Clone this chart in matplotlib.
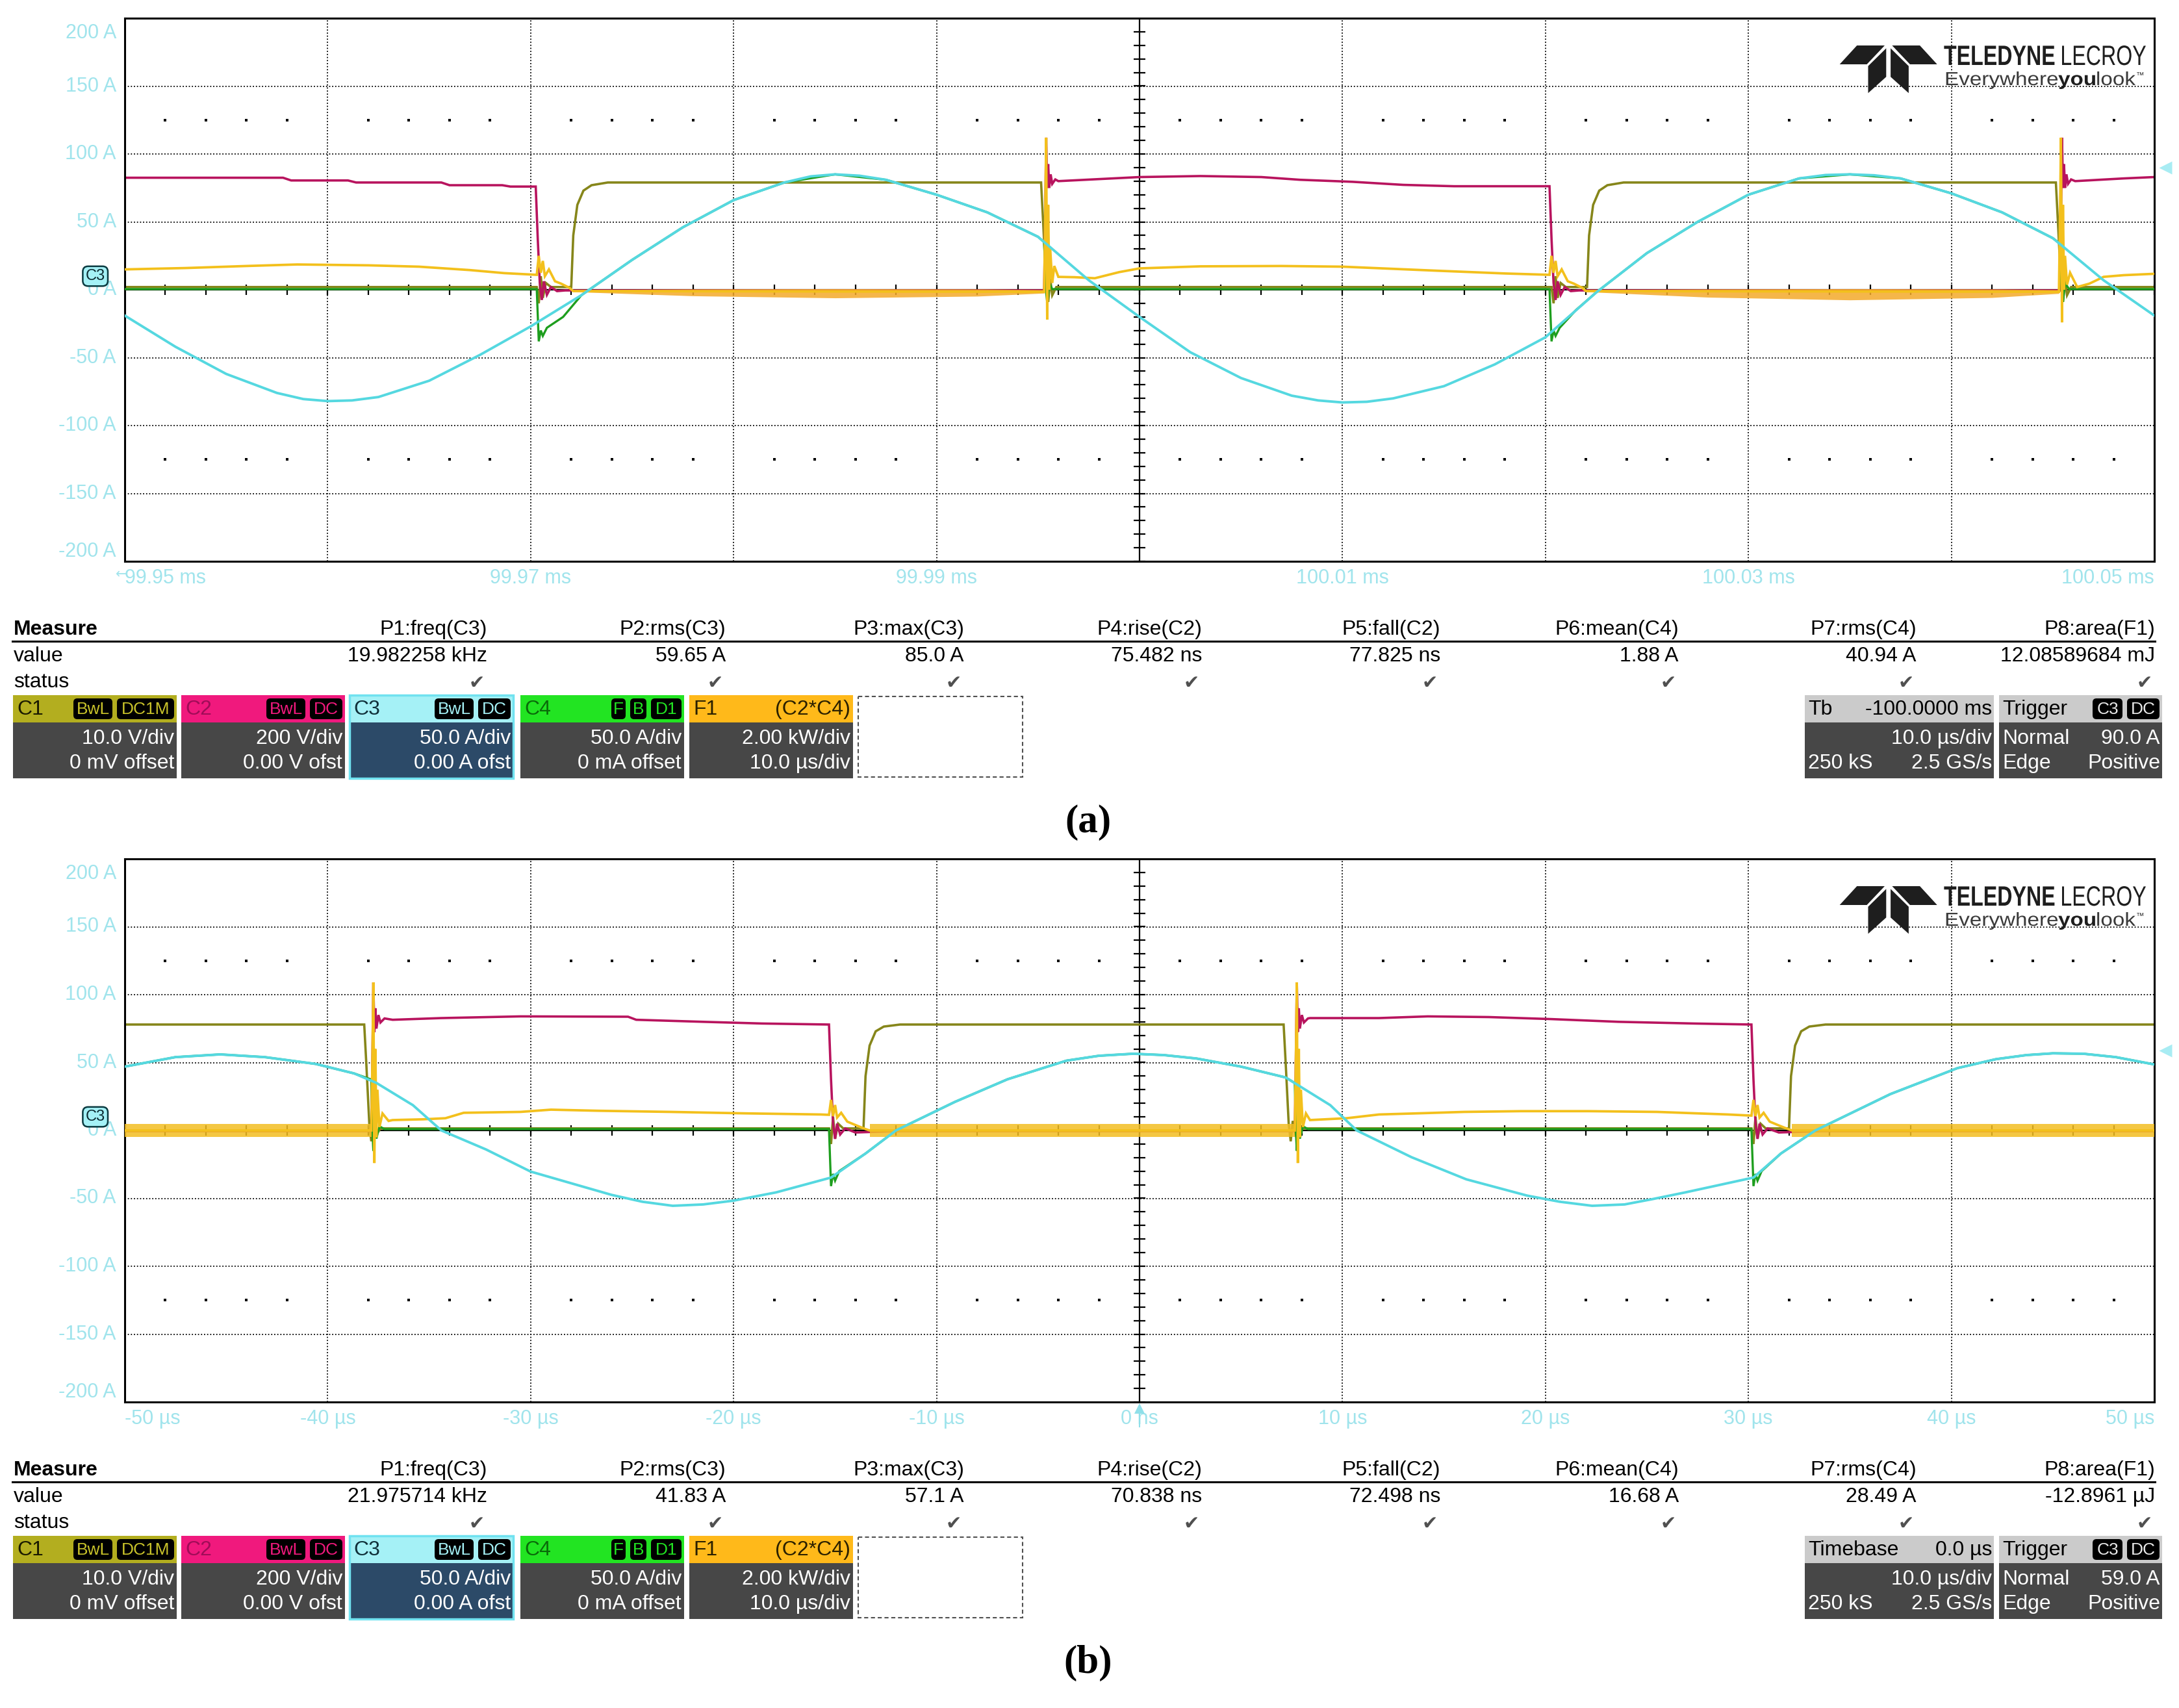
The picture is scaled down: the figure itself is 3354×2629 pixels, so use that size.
import numpy as np
import matplotlib
matplotlib.use('Agg')
import matplotlib.pyplot as plt
import matplotlib.transforms as mtrans
from matplotlib.patches import Rectangle, FancyBboxPatch, Polygon, PathPatch
from matplotlib.textpath import TextPath
from matplotlib.font_manager import FontProperties

nan = np.nan

# scope vertical settings (units per division)
c1_scale = 10.0     # V/div
c2_scale = 200.0    # V/div
c3_scale = 50.0     # A/div
c4_scale = 50.0     # A/div
f1_scale = 2000.0   # W/div

y_ticks = [200, 150, 100, 50, 0, -50, -100, -150, -200]
y_labels = ['200 A', '150 A', '100 A', '50 A', '0 A', '-50 A', '-100 A', '-150 A', '-200 A']

a_x_ticks = [-50, -30, -10, 10, 30, 50]
a_x_labels = ['99.95 ms', '99.97 ms', '99.99 ms', '100.01 ms', '100.03 ms', '100.05 ms']
b_x_ticks = [-50, -40, -30, -20, -10, 0, 10, 20, 30, 40, 50]
b_x_labels = ['-50 µs', '-40 µs', '-30 µs', '-20 µs', '-10 µs', '0 ns',
              '10 µs', '20 µs', '30 µs', '40 µs', '50 µs']

# ---------------- (a) traces, time in us around 100 ms ----------------
a_c1 = [(-50, 0.4), (-29.7, 0.4), (-29.6, -2.0), (-29.5, 2.0), (-29.4, -1.2), (-29.25, 1.0),
        (-29.0, 0.4), (-28.0, 0.4), (-27.9, 8.0), (-27.7, 12.5), (-27.4, 14.6), (-27.0, 15.4),
        (-26.2, 15.8), (-4.85, 15.8), (-4.75, 10.0), (-4.6, 1.0), (-4.5, -1.8), (-4.4, 1.6),
        (-4.3, -0.8), (-4.1, 0.4), (20.3, 0.4), (20.4, -2.0), (20.5, 2.0), (20.6, -1.2),
        (20.75, 1.0), (21.0, 0.4), (22.05, 0.4), (22.15, 8.0), (22.35, 12.5), (22.65, 14.6),
        (23.05, 15.4), (23.85, 15.8), (45.15, 15.8), (45.25, 10.0), (45.4, 1.0), (45.5, -1.8),
        (45.6, 1.6), (45.7, -0.8), (45.9, 0.4), (50, 0.4)]

a_c2 = [(-50, 330), (-42.2, 330), (-41.8, 322), (-39.0, 322), (-38.6, 316), (-34.4, 316),
        (-34.0, 308), (-31.4, 308), (-31.0, 304), (-29.75, 304), (-29.65, 150), (-29.55, 20),
        (-29.45, -30), (-29.35, 25), (-29.2, -15), (-29.0, 8), (-28.7, -4), (-28.3, -2),
        (-4.7, -2), (-4.65, 200), (-4.6, 448), (-4.55, 300), (-4.5, 370), (-4.45, 300),
        (-4.38, 340), (-4.3, 312), (-4.15, 325), (-4.0, 320), (-2.0, 326), (0.0, 332),
        (3.0, 335), (6.0, 332), (7.9, 324), (10.5, 318), (13.0, 309), (15.5, 305),
        (20.2, 305), (20.3, 150), (20.4, 20), (20.5, -30), (20.6, 25), (20.75, -15),
        (20.95, 8), (21.25, -4), (21.65, -2), (45.35, -2), (45.4, 200), (45.45, 448),
        (45.5, 300), (45.55, 370), (45.6, 300), (45.67, 340), (45.75, 312), (45.9, 325),
        (46.1, 320), (48.5, 328), (50, 332)]

a_c3 = [(-50, -19), (-47.5, -42), (-45, -62), (-42.5, -76), (-41.2, -80.5), (-40, -82),
        (-38.8, -81.5), (-37.5, -79), (-35, -67), (-32.5, -48), (-30, -27), (-27.5, -4),
        (-25, 22), (-22.5, 46), (-20, 66), (-17.5, 79), (-16.2, 83.5), (-15, 85),
        (-13.8, 84), (-12.5, 81), (-10, 70), (-7.5, 57), (-5, 39), (-2.5, 7), (0, -20),
        (2.5, -46), (5, -65), (7.5, -78), (8.8, -81.5), (10, -83), (11.2, -82.5),
        (12.5, -80), (15, -71), (17.5, -55), (20, -35), (22.5, -2), (25, 27), (27.5, 50),
        (30, 70), (32.5, 82), (33.8, 84.5), (35, 85), (36.2, 84.3), (37.5, 82), (40, 71),
        (42.5, 57), (45, 38), (47.5, 7), (50, -19)]

a_c4 = [(-50, 0.5), (-29.7, 0.5), (-29.6, -38), (-29.5, -30), (-29.4, -34), (-29.2, -28),
        (-28.4, -20), (-27.5, -4), (-25, 22), (-22.5, 46), (-20, 66), (-17.5, 79), (-15, 85),
        (-12.5, 81), (-10, 70), (-7.5, 57), (-5.0, 39), (-4.7, 35), (-4.62, 0), (-4.55, -9),
        (-4.45, 5), (-4.3, 0.5), (20.2, 0.5), (20.3, -38), (20.4, -30), (20.5, -34),
        (20.7, -28), (21.5, -15), (22.5, -2), (25, 27), (27.5, 50), (30, 70), (32.5, 82),
        (35, 85), (37.5, 82), (40, 71), (42.5, 57), (45.0, 38), (45.35, 34), (45.43, 0),
        (45.5, -9), (45.6, 5), (45.8, 0.5), (50, 0.5)]

a_f1 = [(-50, 600), (-47, 640), (-44, 700), (-41.5, 745), (-38, 720), (-35.5, 680),
        (-33, 580), (-31.3, 490), (-29.7, 440), (-29.6, 1000), (-29.5, 500), (-29.4, 850),
        (-29.3, 400), (-29.1, 600), (-28.8, 250), (-28.5, 180), (-28.1, 60), (-27.9, -40),
        (-4.7, -60), (-4.65, 2000), (-4.6, 4480), (-4.55, -880), (-4.5, 2500), (-4.45, 0),
        (-4.4, 1200), (-4.3, 200), (-4.2, 700), (-4.0, 380), (-3.2, 370), (-2.2, 340),
        (-1.0, 520), (0, 630), (3, 690), (7, 700), (10, 680), (14.7, 560), (18, 480),
        (20.2, 440), (20.3, 1000), (20.4, 500), (20.5, 850), (20.6, 400), (20.8, 600),
        (21.1, 250), (21.4, 180), (21.8, 60), (22.0, -40), (45.3, -60), (45.35, 2000),
        (45.4, 4480), (45.45, -960), (45.5, 2500), (45.55, 0), (45.6, 1000), (45.7, 150),
        (45.85, 500), (46.2, 80), (46.8, 180), (47.5, 380), (48.5, 430), (50, 470)]

# noise band of F1 while the switch conducts
a_band_t = [-27.9, -22, -15, -8, -4.7, nan, 22.0, 28, 35, 42, 45.3]
a_band_lo = [-60, -180, -240, -190, -100, nan, -60, -220, -300, -230, -110]
a_band_hi = [0, 20, 30, 20, 0, nan, 0, 20, 30, 20, 0]

# ---------------- (b) traces, time in us around trigger ----------------
b_c1 = [(-50, 15.6), (-38.2, 15.6), (-38.1, 10.0), (-37.95, 1.0), (-37.85, -1.6), (-37.75, 1.4),
        (-37.6, -0.6), (-37.4, 0.3), (-15.3, 0.3), (-15.2, -2.0), (-15.1, 2.0), (-15.0, -1.2),
        (-14.85, 1.0), (-14.6, 0.3), (-13.6, 0.3), (-13.5, 8.0), (-13.3, 12.5), (-13.0, 14.6),
        (-12.6, 15.3), (-11.8, 15.6), (7.1, 15.6), (7.2, 10.0), (7.35, 1.0), (7.45, -1.6),
        (7.55, 1.4), (7.7, -0.6), (7.9, 0.3), (30.15, 0.3), (30.25, -2.0), (30.35, 2.0),
        (30.45, -1.2), (30.6, 1.0), (30.85, 0.3), (32.0, 0.3), (32.1, 8.0), (32.3, 12.5),
        (32.6, 14.6), (33.0, 15.3), (33.8, 15.6), (50, 15.6)]

b_c2 = [(-50, -2), (-37.85, -2), (-37.8, 200), (-37.75, 436), (-37.7, 290), (-37.65, 360),
        (-37.6, 300), (-37.5, 340), (-37.4, 318), (-37.2, 330), (-36.8, 326), (-34.4, 331),
        (-30.5, 336), (-25.2, 335), (-24.8, 326), (-21.5, 320), (-18.6, 315), (-15.3, 312),
        (-15.2, 150), (-15.1, 20), (-15.0, -25), (-14.9, 20), (-14.75, -12), (-14.5, 6),
        (-14.0, -6), (-13.0, -4), (-12.0, -2), (7.65, -2), (7.7, 200), (7.75, 436),
        (7.8, 290), (7.85, 360), (7.9, 300), (8.0, 340), (8.1, 318), (8.3, 330), (8.4, 331),
        (11.8, 331), (14.2, 336), (17.2, 334), (20.3, 328), (23.6, 320), (27.3, 315),
        (30.15, 312), (30.25, 150), (30.35, 20), (30.45, -25), (30.55, 20), (30.7, -12),
        (30.95, 6), (31.5, -6), (32.5, -4), (33.5, -2), (50, -2)]

b_c3 = [(-50, 47), (-47.5, 54), (-45.3, 56), (-43.1, 54), (-40.6, 49), (-38.7, 42),
        (-37.6, 35), (-35.8, 18.6), (-34.4, 0), (-32.2, -14), (-30.0, -30.3), (-27.4, -41.5),
        (-26.0, -47.5), (-24.5, -52.5), (-23.0, -55.5), (-21.5, -54.5), (-20.0, -51.7),
        (-17.9, -45.6), (-15.2, -34.7), (-13.5, -17), (-12.0, 0), (-9.1, 21), (-6.5, 37.7),
        (-3.6, 51.4), (-2.0, 55), (-0.3, 56.5), (1.2, 55.5), (2.8, 53), (5.0, 47), (7.2, 39),
        (9.4, 18.6), (10.7, 0), (13.4, -19.7), (16.1, -36), (19.1, -48), (20.7, -52.5),
        (22.3, -55.5), (23.9, -54.5), (25.3, -50.5), (26.9, -45.6), (30.25, -34.7),
        (31.6, -17), (33.3, 0), (37.0, 26.8), (40.3, 45.9), (42.2, 52.5), (43.7, 55.5),
        (45.0, 56.8), (46.5, 56.5), (48.1, 54), (50, 48.6)]

b_c4 = [(-50, 47), (-47.5, 54), (-45.3, 56), (-43.1, 54), (-40.6, 49), (-38.7, 42),
        (-37.85, 37.5), (-37.8, 0), (-37.75, -15), (-37.7, 8), (-37.6, -6), (-37.45, 3),
        (-37.2, 1), (-15.3, 1), (-15.2, -41), (-15.1, -32), (-15.0, -37), (-14.8, -30),
        (-13.5, -17), (-12.0, 0), (-9.1, 21), (-6.5, 37.7), (-3.6, 51.4), (-2.0, 55),
        (-0.3, 56.5), (1.2, 55.5), (2.8, 53), (5.0, 47), (7.2, 39), (7.65, 35), (7.7, 0),
        (7.75, -15), (7.8, 8), (7.9, -6), (8.05, 3), (8.3, 1), (30.15, 1), (30.25, -41),
        (30.35, -32), (30.45, -37), (30.65, -30), (31.6, -17), (33.3, 0), (37.0, 26.8),
        (40.3, 45.9), (42.2, 52.5), (43.7, 55.5), (45.0, 56.8), (46.5, 56.5), (48.1, 54),
        (50, 48.6)]

b_f1 = [(-50, 0), (-37.85, 0), (-37.8, 2000), (-37.75, 4360), (-37.7, -960), (-37.65, 2400),
        (-37.6, -200), (-37.55, 1200), (-37.45, 100), (-37.3, 500), (-37.0, 280), (-36.8, 306),
        (-35.3, 328), (-34.2, 360), (-33.3, 520), (-30.5, 546), (-29, 612), (-26.7, 580),
        (-23.1, 546), (-19.4, 503), (-15.7, 470), (-15.3, 460), (-15.2, 900), (-15.1, 420),
        (-15.0, 750), (-14.9, 380), (-14.7, 520), (-14.4, 260), (-14.0, 160), (-13.5, 40),
        (-13.3, 0), (7.65, 0), (7.7, 2000), (7.75, 4360), (7.8, -960), (7.85, 2400),
        (7.9, -200), (7.95, 1200), (8.05, 100), (8.2, 500), (8.4, 306), (10.2, 360),
        (11.8, 470), (13.5, 500), (16.0, 546), (18.8, 568), (22.1, 568), (25.5, 546),
        (29.0, 470), (30.15, 437), (30.25, 900), (30.35, 420), (30.45, 750), (30.55, 380),
        (30.75, 520), (31.05, 260), (31.45, 160), (31.95, 40), (32.15, 0), (50, 0)]

b_band_t = [-50, -37.85, nan, -13.3, 7.65, nan, 32.15, 50]
b_band_lo = [-190, -190, nan, -190, -190, nan, -190, -190]
b_band_hi = [190, 190, nan, 190, 190, nan, 190, 190]

a_trigger_level = 90.0
b_trigger_level = 59.0

# ---------------- measurement panel texts ----------------
measure_names = ['P1:freq(C3)', 'P2:rms(C3)', 'P3:max(C3)', 'P4:rise(C2)',
                 'P5:fall(C2)', 'P6:mean(C4)', 'P7:rms(C4)', 'P8:area(F1)']
a_measure_vals = ['19.982258 kHz', '59.65 A', '85.0 A', '75.482 ns', '77.825 ns',
                  '1.88 A', '40.94 A', '12.08589684 mJ']
b_measure_vals = ['21.975714 kHz', '41.83 A', '57.1 A', '70.838 ns', '72.498 ns',
                  '16.68 A', '28.49 A', '-12.8961 µJ']

box_names = ['C1', 'C2', 'C3', 'C4', 'F1']
box_chips = [['BwL', 'DC1M'], ['BwL', 'DC'], ['BwL', 'DC'], ['F', 'B', 'D1'], []]
box_line1 = ['10.0 V/div', '200 V/div', '50.0 A/div', '50.0 A/div', '2.00 kW/div']
box_line2 = ['0 mV offset', '0.00 V ofst', '0.00 A ofst', '0 mA offset', '10.0 µs/div']

a_tb = ('Tb', '-100.0000 ms')
b_tb = ('Timebase', '0.0 µs')

# colours
col_c1, col_c2, col_c3, col_c4, col_f1 = '#86861a', '#b8145e', '#55d8e0', '#1e9e1e', '#f3c01c'
a_band_col = '#f4aa2a'
b_band_col = '#f3be22'
head_cols = ['#b3ae1f', '#f0197d', '#a5f1f6', '#22e422', '#ffb91a']
name_cols = ['#1a1a00', '#a00c58', '#10303a', '#0a6a0a', '#2a2000']
chip_text_cols = ['#c8c22a', '#f0197d', '#a5f1f6', '#22e422', 'k']
lab_col = '#a0e4ec'

plt.rcParams['font.family'] = ['Liberation Sans', 'DejaVu Sans']

W, H = 3354, 2629
fig = plt.figure(figsize=(W / 100, H / 100), dpi=100)


def px_axes(x0, y0, x1, y1):
    return fig.add_axes([x0 / W, 1 - y1 / H, (x1 - x0) / W, (y1 - y0) / H])


def draw_scope(ax, c1, c2, c3, c4, f1, band, band_col, xt, xl, trig):
    ax.set_xlim(-50, 50)
    ax.set_ylim(-4, 4)
    ax.set_xticks([])
    ax.set_yticks([])
    for s in ax.spines.values():
        s.set_linewidth(2.2)
    # graticule
    for x in range(-40, 50, 10):
        if x != 0:
            ax.axvline(x, color='k', lw=1.3, ls=(0, (1, 1.6)), zorder=0.5)
    for y in range(-3, 4):
        if y != 0:
            ax.axhline(y, color='k', lw=1.3, ls=(0, (1, 1.6)), zorder=0.5)
    ax.axvline(0, color='k', lw=1.6, zorder=0.6)
    ax.axhline(0, color='k', lw=1.6, zorder=0.6)
    tk = np.arange(-50, 50.01, 2.0)
    ax.vlines(tk, -0.08, 0.08, color='k', lw=1.6, zorder=0.6)
    yk = np.arange(-4, 4.01, 0.2)
    ax.hlines(yk, -0.28, 0.28, color='k', lw=1.6, zorder=0.6)
    dx = [x for x in tk if int(round(x)) % 10 != 0]
    for yy in (2.5, -2.5):
        ax.scatter(dx, [yy] * len(dx), s=5, color='k', marker='s', lw=0, zorder=0.6)

    # traces
    for pairs, scale, color, lw, z in [(c1, c1_scale, col_c1, 2.6, 2.0),
                                       (c2, c2_scale, col_c2, 2.6, 2.5),
                                       (c4, c4_scale, col_c4, 2.4, 3.0),
                                       (f1, f1_scale, col_f1, 2.7, 3.6),
                                       (c3, c3_scale, col_c3, 2.8, 4.0)]:
        t, v = np.array(pairs, dtype=float).T
        ax.plot(t, v / scale, color=color, lw=lw, zorder=z, solid_joinstyle='miter')
    bt, blo, bhi = [np.array(a, dtype=float) for a in band]
    cuts = np.where(np.isnan(bt))[0]
    for seg in np.split(np.arange(len(bt)), cuts):
        seg = [i for i in seg if not np.isnan(bt[i])]
        ax.fill_between(bt[seg], blo[seg] / f1_scale, bhi[seg] / f1_scale,
                        color=band_col, alpha=0.85, lw=0, zorder=3.3)

    # axis labels
    bx = mtrans.blended_transform_factory(ax.transData, ax.transAxes)
    for t, lab in zip(xt, xl):
        ha = 'left' if t == xt[0] else ('right' if t == xt[-1] else 'center')
        ax.text(t, -0.031, lab, transform=bx, ha=ha, va='center', fontsize=22, color=lab_col)
    by = mtrans.blended_transform_factory(ax.transAxes, ax.transData)
    for v, lab in zip(y_ticks, y_labels):
        ax.text(-0.0042, np.clip(v / c3_scale, -3.86, 3.78), lab, transform=by,
                ha='right', va='center', fontsize=22, color=lab_col)

    # C3 ground marker and trigger level arrow
    ax.text(-51.45, 0.2, 'C3', ha='center', va='center', fontsize=17, color='#0b2a30',
            clip_on=False, zorder=6,
            bbox=dict(boxstyle='round,pad=0.18,rounding_size=0.35', fc='#a5f1f6',
                      ec='#0a3a40', lw=1.8))
    ax.plot([50.55], [trig / c3_scale], marker='<', ms=15, color='#a8ecf3', mec='none',
            clip_on=False, zorder=6)


ax_a = px_axes(192, 28, 3316, 864)
draw_scope(ax_a, a_c1, a_c2, a_c3, a_c4, a_f1, (a_band_t, a_band_lo, a_band_hi), a_band_col,
           a_x_ticks, a_x_labels, a_trigger_level)
ax_b = px_axes(192, 1322, 3316, 2158)
draw_scope(ax_b, b_c1, b_c2, b_c3, b_c4, b_f1, (b_band_t, b_band_lo, b_band_hi), b_band_col,
           b_x_ticks, b_x_labels, b_trigger_level)

# overlay in pixel coordinates for the scope status panels
ov = fig.add_axes([0, 0, 1, 1])
ov.set_xlim(0, W)
ov.set_ylim(H, 0)
ov.axis('off')

chip_w = {'BwL': 64, 'DC1M': 92, 'DC': 54, 'F': 26, 'B': 29, 'D1': 51, 'C3': 50}
meas_right = [750, 1117, 1484, 1850, 2217, 2584, 2950, 3317]
box_x = [20, 279, 538, 801, 1061]
FS = 23


def chip(xr, y0, txt, tcol):
    w = chip_w[txt]
    ov.add_patch(FancyBboxPatch((xr - w + 2, y0 + 5), w - 4, 32,
                                boxstyle='round,pad=0,rounding_size=6', fc='k', ec='none'))
    ov.text(xr - w / 2, y0 + 22, txt, ha='center', va='center', fontsize=19, color=tcol)
    return xr - w - 3


def tpath(s, size, weight='normal'):
    return TextPath((0, 0), s, size=size,
                    prop=FontProperties(family='Liberation Sans', weight=weight))


def put_path(tp, x, y, sx, color):
    path = mtrans.Affine2D().scale(sx, -1).translate(x, y).transform_path(tp)
    ov.add_patch(PathPatch(path, fc=color, ec='none', lw=0))
    return x + tp.get_extents().x1 * sx


def logo(oy):
    lc = '#1e1e1e'
    for poly in ([(2831.7, 99), (2858.3, 70), (2901, 70), (2873.5, 99)],
                 [(2875.5, 101.7), (2903.3, 74.3), (2903.3, 118.3), (2875.5, 143.3)],
                 [(2981.7, 99), (2955.1, 70), (2912.4, 70), (2939.9, 99)],
                 [(2937.9, 101.7), (2910.1, 74.3), (2910.1, 118.3), (2937.9, 143.3)]):
        ov.add_patch(Polygon([(x, y + oy) for x, y in poly], closed=True, fc=lc, ec='none'))
    # condensed lettering: squeeze the glyph outlines horizontally
    p1, p2 = tpath('TELEDYNE', 43, 'bold'), tpath('LECROY', 43)
    gap = 9
    sx = (311 - gap) / (p1.get_extents().x1 + p2.get_extents().x1)
    x = put_path(p1, 2992, 100 + oy, sx, lc)
    put_path(p2, x + gap, 100 + oy, sx, lc)
    q1, q2, q3 = tpath('Everywhere', 29), tpath('you', 29, 'bold'), tpath('look', 29)
    sx = 292 / (q1.get_extents().x1 + q2.get_extents().x1 + q3.get_extents().x1)
    x = put_path(q1, 2993, 131 + oy, sx, '#3a3a3a')
    x = put_path(q2, x + 1, 131 + oy, sx, '#1e1e1e')
    x = put_path(q3, x + 1, 131 + oy, sx, '#3a3a3a')
    ov.text(x + 1, 120 + oy, '\u2122', fontsize=9, va='baseline', color='#333333')


def draw_info(oy, vals, tb, trig_txt, tag):
    ov.text(21, 969 + oy, 'Measure', fontsize=FS, fontweight='bold', va='center')
    ov.text(21, 1010 + oy, 'value', fontsize=FS, va='center')
    ov.text(21, 1050 + oy, 'status', fontsize=FS, va='center')
    ov.plot([19, 3317], [987 + oy] * 2, color='k', lw=2.2)
    for xr, name, val in zip(meas_right, measure_names, vals):
        ov.text(xr, 969 + oy, name, ha='right', va='center', fontsize=FS)
        ov.text(xr, 1010 + oy, val, ha='right', va='center', fontsize=FS)
        ov.text(xr - 4, 1052 + oy, '\u2714', ha='right', va='center', fontsize=21,
                color='#505050', family='DejaVu Sans')

    y0 = 1070 + oy
    for i, x0 in enumerate(box_x):
        body = '#2c4a68' if box_names[i] == 'C3' else '#474747'
        ov.add_patch(Rectangle((x0, y0), 252, 42, fc=head_cols[i], ec='none'))
        ov.add_patch(Rectangle((x0, y0 + 42), 252, 86, fc=body, ec='none'))
        if box_names[i] == 'C3':
            ov.add_patch(Rectangle((x0, y0), 252, 128, fc='none', ec='#70e2f0', lw=2.5))
        ov.text(x0 + 6, y0 + 22, box_names[i], va='center', fontsize=FS, color=name_cols[i])
        xr = x0 + 250
        for c in reversed(box_chips[i]):
            xr = chip(xr, y0, c, chip_text_cols[i])
        if box_names[i] == 'F1':
            ov.text(x0 + 248, y0 + 22, '(C2*C4)', ha='right', va='center', fontsize=FS,
                    color='#2a2000')
        ov.text(x0 + 248, y0 + 67, box_line1[i], ha='right', va='center', fontsize=FS, color='w')
        ov.text(x0 + 248, y0 + 105, box_line2[i], ha='right', va='center', fontsize=FS, color='w')
    ov.add_patch(Rectangle((1321, y0 + 2), 253, 124, fc='none', ec='#505050', lw=1.5,
                           ls=(0, (3, 2))))

    # timebase box
    tx = 2778
    ov.add_patch(Rectangle((tx, y0), 291, 42, fc='#cbcbcb', ec='none'))
    ov.add_patch(Rectangle((tx, y0 + 42), 291, 86, fc='#474747', ec='none'))
    ov.text(tx + 5, y0 + 22, tb[0], va='center', fontsize=FS)
    ov.text(tx + 288, y0 + 22, tb[1], ha='right', va='center', fontsize=FS)
    ov.text(tx + 288, y0 + 67, '10.0 µs/div', ha='right', va='center', fontsize=FS, color='w')
    ov.text(tx + 5, y0 + 105, '250 kS', va='center', fontsize=FS, color='w')
    ov.text(tx + 288, y0 + 105, '2.5 GS/s', ha='right', va='center', fontsize=FS, color='w')
    # trigger box
    gx = 3077
    ov.add_patch(Rectangle((gx, y0), 251, 42, fc='#cbcbcb', ec='none'))
    ov.add_patch(Rectangle((gx, y0 + 42), 251, 86, fc='#474747', ec='none'))
    ov.text(gx + 5, y0 + 22, 'Trigger', va='center', fontsize=FS)
    xr = chip(gx + 249, y0, 'DC', '#e8e8e8')
    chip(xr, y0, 'C3', '#e8e8e8')
    ov.text(gx + 5, y0 + 67, 'Normal', va='center', fontsize=FS, color='w')
    ov.text(gx + 248, y0 + 67, trig_txt, ha='right', va='center', fontsize=FS, color='w')
    ov.text(gx + 5, y0 + 105, 'Edge', va='center', fontsize=FS, color='w')
    ov.text(gx + 248, y0 + 105, 'Positive', ha='right', va='center', fontsize=FS, color='w')

    ov.text(1675, 1266 + oy, tag, ha='center', va='center', fontsize=44, fontweight='bold',
            family=['Liberation Serif', 'DejaVu Serif'])
    logo(oy)


draw_info(0, a_measure_vals, a_tb, '90.0 A', '(a)')
draw_info(1294, b_measure_vals, b_tb, '59.0 A', '(b)')

# time-reference markers on the time axes
ov.text(178, 884, '\u2190', fontsize=15, color=lab_col, family='DejaVu Sans', va='center')
ov.add_patch(Polygon([(1754, 2160), (1746, 2176), (1762, 2176)], closed=True,
                     fc='#8fdfe9', ec='none'))
ov.plot([1754, 1754], [2174, 2196], color='#8fdfe9', lw=1.5)

fig.savefig('out.png', dpi=100, facecolor='white')
